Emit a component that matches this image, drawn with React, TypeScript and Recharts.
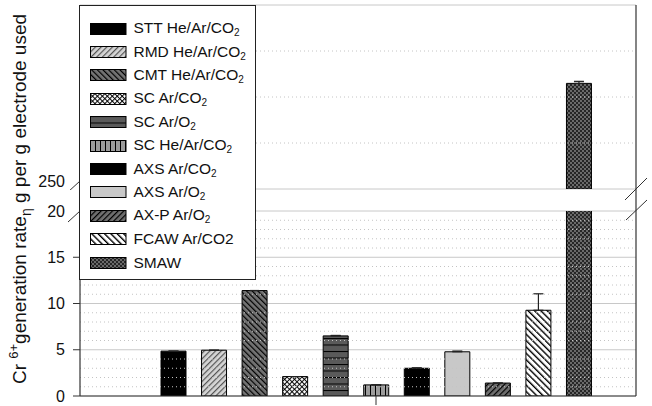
import React from 'react';
import {
  BarChart,
  Bar,
  Cell,
  XAxis,
  YAxis,
  CartesianGrid,
  ReferenceLine,
  ErrorBar,
} from 'recharts';

const categories = [
  'STT He/Ar/CO2',
  'RMD He/Ar/CO2',
  'CMT He/Ar/CO2',
  'SC Ar/CO2',
  'SC Ar/O2',
  'SC He/Ar/CO2',
  'AXS Ar/CO2',
  'AXS Ar/O2',
  'AX-P Ar/O2',
  'FCAW Ar/CO2',
  'SMAW',
];
const rates = [4.85, 4.95, 11.4, 2.1, 6.5, 1.2, 3.0, 4.78, 1.4, 9.27, 824];
const rateErrors = [0, 0, 0, 0, 0.05, 0, 0.05, 0.08, 0, 1.78, 11];
// last character drawn as subscript in the legend
const legendSubscript = [true, true, true, true, true, true, true, true, true, false, false];

const lowerDomain = [0, 20];
const lowerMajorTicks = [0, 5, 10, 15, 20];
const lowerMinorTicks = [1, 2, 3, 4, 6, 7, 8, 9, 11, 12, 13, 14, 16, 17, 18, 19];
const upperDomain = [250, 1250];
const upperMajorTicks = [250];
const upperMinorTicks = [500, 750, 1000];

const fills = [
  '#000000',
  'url(#pat-rmd)',
  'url(#pat-cmt)',
  'url(#pat-scco2)',
  'url(#pat-scao2)',
  'url(#pat-sche)',
  '#000000',
  '#c8c8c8',
  'url(#pat-axp)',
  'url(#pat-fcaw)',
  'url(#pat-smaw)',
];

const FONT = '"Liberation Sans", Arial, Helvetica, sans-serif';
const AXIS = '#333333';
const GRID = '#c8c8c8';
const MINOR = '#c4c4c4';

const lowerData = categories.map((name, i) => ({
  name,
  value: rates[i],
  err: [0, rateErrors[i]],
}));

const upperData = categories.map((name, i) => ({
  name,
  value: rates[i] >= upperDomain[0] ? rates[i] : null,
  err: rates[i] >= upperDomain[0] ? [0, rateErrors[i]] : null,
}));

const xPadding = { left: 73, right: 37 };

const Patterns = () => (
  <svg width={0} height={0} style={{ position: 'absolute' }}>
    <defs>
      <pattern id="pat-rmd" width={4} height={4} patternUnits="userSpaceOnUse" patternTransform="rotate(45)">
        <rect width={4} height={4} fill="#d6d6d6" />
        <line x1={0.6} y1={0} x2={0.6} y2={4} stroke="#555" strokeWidth={1.2} />
      </pattern>
      <pattern id="pat-cmt" width={4} height={4} patternUnits="userSpaceOnUse" patternTransform="rotate(-45)">
        <rect width={4} height={4} fill="#747474" />
        <line x1={0.6} y1={0} x2={0.6} y2={4} stroke="#000" strokeWidth={1.2} />
      </pattern>
      <pattern id="pat-scco2" width={3.5} height={3.5} patternUnits="userSpaceOnUse" patternTransform="rotate(45)">
        <rect width={3.5} height={3.5} fill="#ffffff" />
        <line x1={0.5} y1={0} x2={0.5} y2={3.5} stroke="#000" strokeWidth={1} />
        <line x1={0} y1={0.5} x2={3.5} y2={0.5} stroke="#000" strokeWidth={1} />
      </pattern>
      <pattern id="pat-scao2" width={6} height={6.5} patternUnits="userSpaceOnUse">
        <rect width={6} height={6.5} fill="#5a5a5a" />
        <line x1={0} y1={0.5} x2={6} y2={0.5} stroke="#000" strokeWidth={1} />
      </pattern>
      <pattern id="pat-sche" width={5} height={5} patternUnits="userSpaceOnUse">
        <rect width={5} height={5} fill="#9c9c9c" />
        <line x1={0.5} y1={0} x2={0.5} y2={5} stroke="#000" strokeWidth={1} />
      </pattern>
      <pattern id="pat-axp" width={4} height={4} patternUnits="userSpaceOnUse" patternTransform="rotate(45)">
        <rect width={4} height={4} fill="#707070" />
        <line x1={0.6} y1={0} x2={0.6} y2={4} stroke="#000" strokeWidth={1.2} />
      </pattern>
      <pattern id="pat-fcaw" width={4.5} height={4.5} patternUnits="userSpaceOnUse" patternTransform="rotate(-45)">
        <rect width={4.5} height={4.5} fill="#ffffff" />
        <line x1={0.7} y1={0} x2={0.7} y2={4.5} stroke="#000" strokeWidth={1.4} />
      </pattern>
      <pattern id="pat-smaw" width={4} height={4} patternUnits="userSpaceOnUse">
        <rect width={4} height={4} fill="#262626" />
        <circle cx={1} cy={1} r={0.9} fill="#8a8a8a" />
        <circle cx={3} cy={3} r={0.9} fill="#8a8a8a" />
      </pattern>
    </defs>
  </svg>
);

// y tick: normal tick line, or a diagonal break mark at the break value
const makeYTick = (breakValue: number) => (props: any) => {
  const { x, y, payload } = props;
  const isBreak = payload.value === breakValue;
  return (
    <g>
      {isBreak ? (
        <line x1={x - 12} y1={y + 11} x2={x} y2={y} stroke={AXIS} strokeWidth={1} />
      ) : (
        <line x1={x - 7} y1={y} x2={x} y2={y} stroke={AXIS} strokeWidth={1} />
      )}
      <text
        x={x - 15}
        y={y}
        dy={5.5}
        textAnchor="end"
        fill="#111"
        style={{ fontSize: 16, fontFamily: FONT }}
      >
        {payload.value}
      </text>
    </g>
  );
};

const XTick = (props: any) => {
  const { x, y, index } = props;
  if (index !== 5) return <g />;
  return <line x1={x} y1={y} x2={x} y2={y + 9} stroke={AXIS} strokeWidth={1} />;
};

const LegendBox = () => (
  <div
    style={{
      position: 'absolute',
      left: 79,
      top: 5,
      width: 177,
      height: 275,
      boxSizing: 'border-box',
      border: '1.5px solid #222',
      background: '#fff',
      paddingTop: 11,
      fontFamily: FONT,
      fontSize: 15.5,
      color: '#111',
    }}
  >
    {categories.map((name, i) => (
      <div
        key={name}
        style={{ display: 'flex', alignItems: 'center', height: 23.4, paddingLeft: 9.5 }}
      >
        <svg width={37} height={12} style={{ flex: 'none' }}>
          <rect x={0.5} y={0.5} width={35.5} height={11} fill={fills[i]} stroke="#000" strokeWidth={1} />
        </svg>
        <span style={{ marginLeft: 7, whiteSpace: 'nowrap' }}>
          {legendSubscript[i] ? (
            <>
              {name.slice(0, -1)}
              <sub style={{ fontSize: 10, verticalAlign: -3 }}>{name.slice(-1)}</sub>
            </>
          ) : (
            name
          )}
        </span>
      </div>
    ))}
  </div>
);

const App = () => {
  return (
    <div
      style={{
        position: 'absolute',
        left: 0,
        top: 0,
        width: 652,
        height: 406,
        background: '#fff',
        overflow: 'hidden',
      }}
    >
      <Patterns />

      <div style={{ position: 'absolute', left: 0, top: 0 }}>
        <BarChart
          width={652}
          height={190}
          data={upperData}
          margin={{ top: 5, right: 16, bottom: 1, left: 0 }}
          barSize={25}
        >
          <CartesianGrid horizontal vertical={false} stroke={GRID} />
          {upperMinorTicks.map((v) => (
            <ReferenceLine key={v} y={v} stroke={MINOR} strokeDasharray="1 3" />
          ))}
          <XAxis
            dataKey="name"
            orientation="top"
            height={0}
            padding={xPadding}
            tick={false}
            tickLine={false}
            axisLine={{ stroke: AXIS, strokeWidth: 1.2 }}
          />
          <YAxis
            width={80}
            type="number"
            domain={upperDomain}
            ticks={upperMajorTicks}
            allowDataOverflow
            tickSize={0}
            tickMargin={0}
            tickLine={false}
            tick={makeYTick(250)}
            axisLine={{ stroke: AXIS, strokeWidth: 1.2 }}
          />
          <Bar dataKey="value" stroke="#000" strokeWidth={1} isAnimationActive={false}>
            {upperData.map((d, i) => (
              <Cell key={d.name} fill={fills[i]} />
            ))}
            <ErrorBar dataKey="err" width={5} stroke="#222" strokeWidth={1.2} direction="y" />
          </Bar>
        </BarChart>
      </div>

      <div style={{ position: 'absolute', left: 0, top: 0 }}>
        <BarChart
          width={652}
          height={406}
          data={lowerData}
          margin={{ top: 211, right: 16, bottom: 0, left: 0 }}
          barSize={25}
        >
          <CartesianGrid horizontal vertical={false} stroke={GRID} />
          {lowerMinorTicks.map((v) => (
            <ReferenceLine key={v} y={v} stroke={MINOR} strokeDasharray="1 3" />
          ))}
          <XAxis
            dataKey="name"
            height={10}
            padding={xPadding}
            interval={0}
            tickSize={0}
            tickMargin={0}
            tickLine={false}
            tick={<XTick />}
            axisLine={{ stroke: AXIS, strokeWidth: 1.2 }}
          />
          <YAxis
            width={80}
            type="number"
            domain={lowerDomain}
            ticks={lowerMajorTicks}
            allowDataOverflow
            tickSize={0}
            tickMargin={0}
            tickLine={false}
            tick={makeYTick(20)}
            axisLine={{ stroke: AXIS, strokeWidth: 1.2 }}
          />
          <Bar dataKey="value" stroke="#000" strokeWidth={1} isAnimationActive={false}>
            {lowerData.map((d, i) => (
              <Cell key={d.name} fill={fills[i]} />
            ))}
            <ErrorBar dataKey="err" width={5} stroke="#222" strokeWidth={1.2} direction="y" />
          </Bar>
        </BarChart>
      </div>

      {/* right frame edge and axis break marks */}
      <svg
        width={652}
        height={406}
        style={{ position: 'absolute', left: 0, top: 0, pointerEvents: 'none' }}
      >
        <line x1={636} y1={5} x2={636} y2={396} stroke={AXIS} strokeWidth={1.2} />
        <line x1={625} y1={200} x2={647} y2={178} stroke={AXIS} strokeWidth={1} />
        <line x1={626} y1={220} x2={647} y2={200} stroke={AXIS} strokeWidth={1} />
      </svg>

      <LegendBox />

      {/* y axis title */}
      <svg
        width={40}
        height={406}
        style={{ position: 'absolute', left: 0, top: 0, pointerEvents: 'none' }}
      >
        <text
          x={0}
          y={0}
          transform="translate(26,199) rotate(-90)"
          textAnchor="middle"
          fill="#111"
          style={{ fontSize: 19, fontFamily: FONT }}
        >
          <tspan>Cr </tspan>
          <tspan dy={-8} style={{ fontSize: 13 }}>6+</tspan>
          <tspan dy={8}>generation rate</tspan>
          <tspan dy={5} style={{ fontSize: 14 }}>η</tspan>
          <tspan dy={-5}>{'  g per g electrode used'}</tspan>
        </text>
      </svg>
    </div>
  );
};

export default App;
